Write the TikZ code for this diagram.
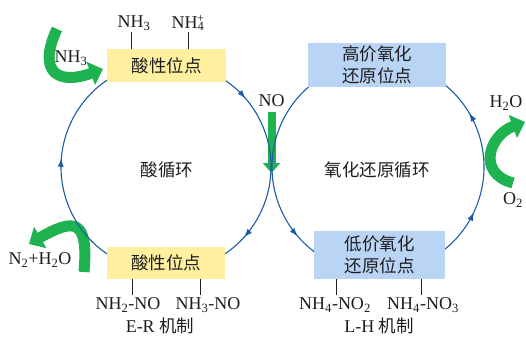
\documentclass[tikz,border=0pt]{standalone}
\usepackage{fontspec}
\setmainfont{Liberation Serif}
\newfontfamily\cjk{Noto Sans CJK SC}
\usetikzlibrary{arrows.meta,decorations.markings,calc}
\definecolor{cycblue}{RGB}{28,92,166}
\definecolor{boxyellow}{RGB}{255,240,160}
\definecolor{boxblue}{RGB}{186,212,245}
\definecolor{arrgreen}{RGB}{30,178,80}
\definecolor{txt}{RGB}{30,30,30}
\tikzset{
  cyc/.style={draw=cycblue, line width=1.1pt},
  arr at/.style={postaction={decorate,decoration={markings,mark=at position #1 with {\arrow[cycblue]{Latex[length=8.5pt,width=6pt]}}}}},
  ybox/.style={fill=boxyellow, draw=none, inner sep=0pt, text=txt, font=\cjk\fontsize{17.5}{22}\selectfont},
  bbox/.style={fill=boxblue, draw=none, inner sep=0pt, align=center, text=txt, font=\cjk\fontsize{17.5}{22}\selectfont},
  lbl/.style={inner sep=0pt, text=txt, font=\fontsize{18}{20}\selectfont},
  clbl/.style={inner sep=0pt, text=txt, font=\cjk\fontsize{17.5}{20}\selectfont},
  tickline/.style={draw=txt, line width=0.9pt},
  garrow/.style={draw=arrgreen, line width=11pt, -{Triangle[length=13pt,width=24pt]}}
}
\begin{document}
\begin{tikzpicture}[x=1pt,y=1pt]
\useasboundingbox (0,0) rectangle (526,-338);

% centres of the two cycles
\coordinate (c1) at (166,-167);
\coordinate (c2) at (378,-167);
\coordinate (X) at (271.5,-173);

% green arrows
\coordinate (gs1) at (57,-29);
\coordinate (ge1) at (103,-69);
\draw[garrow] (gs1) to[out=245,in=200,looseness=2] (ge1);

\coordinate (gs3) at (513,-183);
\coordinate (ge3) at (525,-122);
\draw[garrow] (gs3) to[out=165,in=200,looseness=1.57] (ge3);

\coordinate (gs4) at (84,-272);
\coordinate (ge4) at (29,-244);
\draw[garrow] (gs4) to[out=85,in=30,looseness=2.2] (ge4);

\coordinate (ns) at (271.5,-112);
\draw[draw=arrgreen, line width=8pt, -{Triangle[length=10pt,width=17pt]}] (ns) -- (X);

% cycle arcs
\coordinate (a1) at ($(c1)+(60:105pt)$);
\coordinate (a2) at ($(c1)+(-120:105pt)$);
\coordinate (b1) at ($(c2)+(120:106pt)$);
\coordinate (b2) at ($(c2)+(-60:106pt)$);
\draw[cyc, arr at=0.16, arr at=0.85] (a1) arc[start angle=60, end angle=-60, radius=105pt];
\draw[cyc, arr at=0.54] (a2) arc[start angle=-120, end angle=-240, radius=105pt];
\draw[cyc, arr at=0.84] (b1) arc[start angle=120, end angle=240, radius=106pt];
\draw[cyc, arr at=0.29, arr at=0.755] (b2) arc[start angle=-60, end angle=60, radius=106pt];

% boxes
\node[ybox, minimum width=119pt, minimum height=33pt] (acidT) at (166.5,-65.5) {酸性位点};
\node[ybox, minimum width=118pt, minimum height=32pt] (acidB) at (166,-263) {酸性位点};
\node[bbox, minimum width=138pt, minimum height=44pt] (redT) at (377,-65) {高价氧化\\还原位点};
\node[bbox, minimum width=131pt, minimum height=48pt] (redB) at (379.5,-255) {低价氧化\\还原位点};

% top labels
\node[lbl] (nh3t) at (134,-23) {NH\textsubscript{3}};
\node[lbl] (nh4t) at (188,-23) {NH\textsubscript{4}\llap{\textsuperscript{+}}};
\coordinate (t1) at (131,-32);
\coordinate (t2) at (188,-32);
\draw[tickline] (t1) -- (t1 |- acidT.north);
\draw[tickline] (t2) -- (t2 |- acidT.north);

% bottom labels
\node[lbl] (nh2no) at (128,-305) {NH\textsubscript{2}-NO};
\node[lbl] (nh3no) at (208,-305) {NH\textsubscript{3}-NO};
\node[lbl] (er) at (160,-326) {E-R {\cjk\fontsize{17.5}{20}\selectfont 机制}};
\coordinate (t3) at (132,-295);
\coordinate (t4) at (200,-295);
\draw[tickline] (t3) -- (t3 |- acidB.south);
\draw[tickline] (t4) -- (t4 |- acidB.south);

\node[lbl] (nh4no2) at (335,-305) {NH\textsubscript{4}-NO\textsubscript{2}};
\node[lbl] (nh4no3) at (423,-305) {NH\textsubscript{4}-NO\textsubscript{3}};
\node[lbl] (lh) at (379,-326) {L-H {\cjk\fontsize{17.5}{20}\selectfont 机制}};
\coordinate (t5) at (336,-295);
\coordinate (t6) at (421,-295);
\draw[tickline] (t5) -- (t5 |- redB.south);
\draw[tickline] (t6) -- (t6 |- redB.south);

% side labels
\node[lbl] (nh3l) at (71,-58) {NH\textsubscript{3}};
\node[lbl] (n2h2o) at (40,-260) {N\textsubscript{2}+H\textsubscript{2}O};
\node[lbl] (no) at (271.5,-101) {NO};
\node[lbl] (h2o) at (506,-103) {H\textsubscript{2}O};
\node[lbl] (o2) at (513,-200) {O\textsubscript{2}};

% cycle names
\node[clbl] (acyc) at (167,-170) {酸循环};
\node[clbl] (rcyc) at (377,-170) {氧化还原循环};
\end{tikzpicture}
\end{document}
